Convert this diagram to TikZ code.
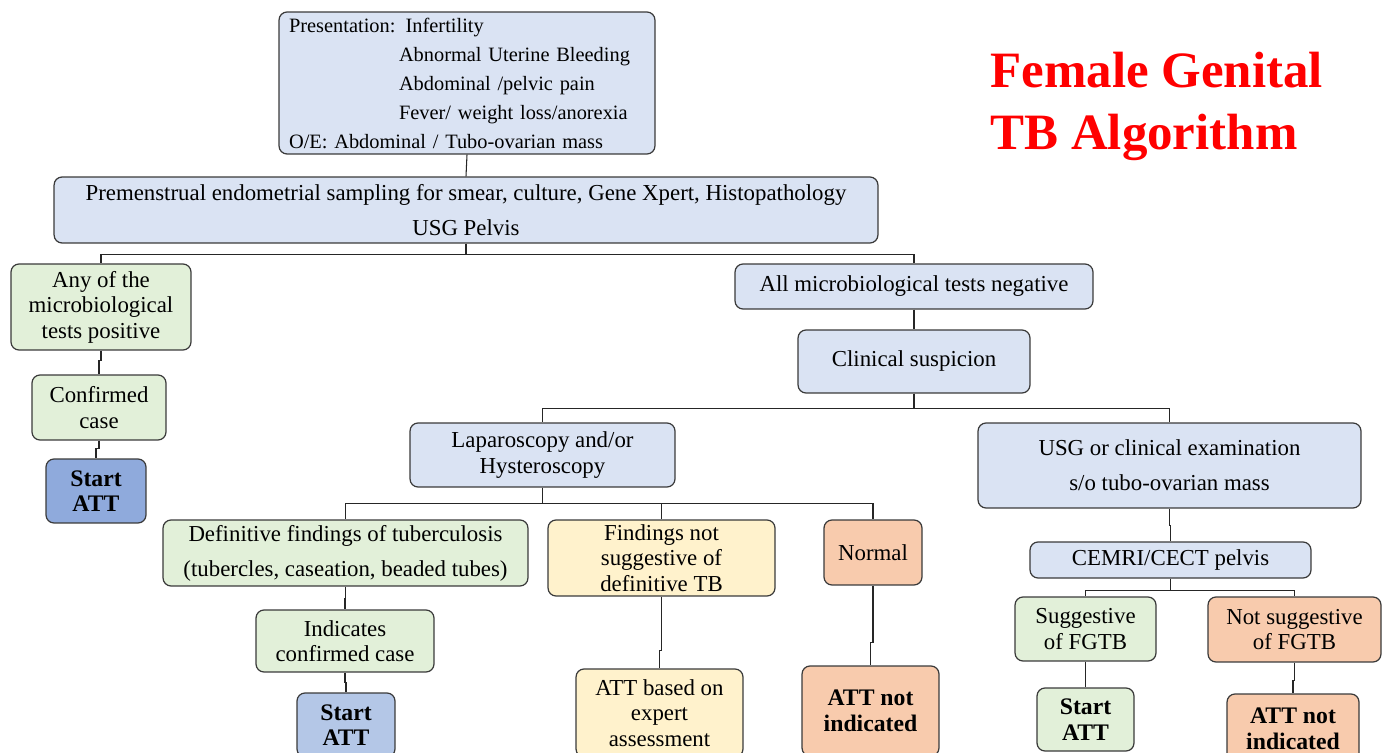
\documentclass[tikz,border=0pt]{standalone}
\usepackage{fontspec}
\setmainfont{Liberation Serif}

\definecolor{boxblue}{HTML}{DAE3F3}
\definecolor{boxgreen}{HTML}{E2F0D9}
\definecolor{boxyellow}{HTML}{FFF2CC}
\definecolor{boxorange}{HTML}{F8CBAD}
\definecolor{startblue}{HTML}{8FAADC}
\definecolor{startlight}{HTML}{B4C7E7}
\definecolor{edgegray}{HTML}{3A3A3A}

\begin{document}
\begin{tikzpicture}[
        x=0.02cm, y=-0.02cm,
        base_box/.style={draw=edgegray, line width=0.7pt, rounded corners=0.16cm, align=center,
                         inner sep=2pt, font=\fontsize{13}{14.5}\selectfont},
        blue_box/.style={base_box, fill=boxblue},
        green_box/.style={base_box, fill=boxgreen},
        yellow_box/.style={base_box, fill=boxyellow},
        orange_box/.style={base_box, fill=boxorange},
        bold_box/.style={font=\fontsize{13.5}{14.5}\selectfont\bfseries},
        wide_lines/.style={font=\fontsize{13}{20}\selectfont},
        link/.style={draw=black!85, line width=0.6pt},
        title_text/.style={font=\fontsize{29}{35}\selectfont\bfseries, text=red, align=left, inner sep=0pt},
    ]

    \clip (0,0) rectangle (1389,753);

    % Title
    \node[title_text, anchor=north west] (title) at (990,52) {Female Genital\\TB Algorithm};

    % Presentation and first work-up
    \node[blue_box, align=left, text width=7.12cm, inner xsep=0.2cm, minimum height=2.84cm,
          font=\fontsize{11.6}{16.5}\selectfont] (pres) at (467,83) {%
        \makebox[2.2cm][l]{Presentation: Infertility}\\
        \hspace*{2.2cm}Abnormal Uterine Bleeding\\
        \hspace*{2.2cm}Abdominal /pelvic pain\\
        \hspace*{2.2cm}Fever/ weight loss/anorexia\\
        O/E: Abdominal / Tubo-ovarian mass};
    \node[blue_box, wide_lines, minimum width=16.48cm, minimum height=1.32cm] (samp) at (466,210)
        {Premenstrual endometrial sampling for smear, culture, Gene Xpert, Histopathology\\USG Pelvis};

    % Left branch: microbiology positive
    \node[green_box, minimum width=3.6cm, minimum height=1.72cm] (pos) at (101,307)
        {Any of the\\microbiological\\tests positive};
    \node[green_box, minimum width=2.68cm, minimum height=1.3cm] (conf) at (99,407.5) {Confirmed\\case};
    \node[base_box, bold_box, fill=startblue, minimum width=2.0cm, minimum height=1.28cm] (start_a) at (96,491)
        {Start\\ATT};

    % Right branch: microbiology negative
    \node[blue_box, minimum width=7.16cm, minimum height=0.9cm] (neg) at (914,286.5)
        {All microbiological tests negative};
    \node[blue_box, minimum width=4.64cm, minimum height=1.26cm] (clin) at (914,361.5) {Clinical suspicion};

    % Endoscopy
    \node[blue_box, minimum width=5.3cm, minimum height=1.28cm] (lap) at (542.5,455)
        {Laparoscopy and/or\\Hysteroscopy};
    \node[green_box, wide_lines, minimum width=7.3cm, minimum height=1.32cm] (defin) at (345.5,553)
        {Definitive findings of tuberculosis\\(tubercles, caseation, beaded tubes)};
    \node[yellow_box, minimum width=4.54cm, minimum height=1.52cm] (notsug) at (661.5,558)
        {Findings not\\suggestive of\\definitive TB};
    \node[orange_box, minimum width=1.96cm, minimum height=1.3cm] (normal) at (873,552.5) {Normal};
    \node[green_box, minimum width=3.56cm, minimum height=1.24cm] (indic) at (345,641)
        {Indicates\\confirmed case};
    \node[base_box, bold_box, fill=startlight, minimum width=1.96cm, minimum height=1.28cm] (start_b) at (346,725)
        {Start\\ATT};
    \node[yellow_box, minimum width=3.34cm, minimum height=1.76cm] (expert) at (659.5,713)
        {ATT based on\\expert\\assessment};
    \node[orange_box, bold_box, minimum width=2.74cm, minimum height=1.8cm] (noatt_a) at (870.5,711)
        {ATT not\\indicated};

    % Imaging
    \node[blue_box, wide_lines, minimum width=7.66cm, minimum height=1.7cm] (usg) at (1169.5,465.5)
        {USG or clinical examination\\s/o tubo-ovarian mass};
    \node[blue_box, minimum width=5.62cm, minimum height=0.72cm] (cemri) at (1170.5,560) {CEMRI/CECT pelvis};
    \node[green_box, minimum width=2.82cm, minimum height=1.28cm] (sugg) at (1085.5,629) {Suggestive\\of FGTB};
    \node[orange_box, minimum width=3.46cm, minimum height=1.3cm] (nofgtb) at (1294.5,629.5)
        {Not suggestive\\of FGTB};
    \node[green_box, bold_box, minimum width=1.94cm, minimum height=1.26cm] (start_c) at (1085.5,719.5)
        {Start\\ATT};
    \node[orange_box, bold_box, minimum width=2.64cm, minimum height=1.4cm] (noatt_b) at (1293,729)
        {ATT not\\indicated};

    % Connectors
    \draw[link] (pres.south) -- (samp.north);
    \draw[link] (samp.south) -- ++(0,11) -| (pos.north);
    \draw[link] (samp.south) -- ++(0,11) -| (neg.north);
    \draw[link] (pos.south) -- ++(0,10) -| (conf.north);
    \draw[link] (conf.south) -- ++(0,8) -| (start_a.north);
    \draw[link] (neg.south) -- ++(0,10) -| (clin.north);
    \draw[link] (clin.south) -- ++(0,15) -| (lap.north);
    \draw[link] (clin.south) -- ++(0,15) -| (usg.north);
    \draw[link] (lap.south) -- ++(0,16) -| (defin.north);
    \draw[link] (lap.south) -- ++(0,16) -| (notsug.north);
    \draw[link] (lap.south) -- ++(0,16) -| (normal.north);
    \draw[link] (defin.south) -- ++(0,12) -| (indic.north);
    \draw[link] (indic.south) -- ++(0,10) -| (start_b.north);
    \draw[link] (notsug.south) -- ++(0,54) -| (expert.north);
    \draw[link] (normal.south) -- ++(0,57) -| (noatt_a.north);
    \draw[link] (usg.south) -- ++(0,17) -| (cemri.north);
    \draw[link] (cemri.south) -- ++(0,12) -| (sugg.north);
    \draw[link] (cemri.south) -- ++(0,12) -| (nofgtb.north);
    \draw[link] (sugg.south) -- ++(0,14) -| (start_c.north);
    \draw[link] (nofgtb.south) -- ++(0,18) -| (noatt_b.north);

\end{tikzpicture}
\end{document}
